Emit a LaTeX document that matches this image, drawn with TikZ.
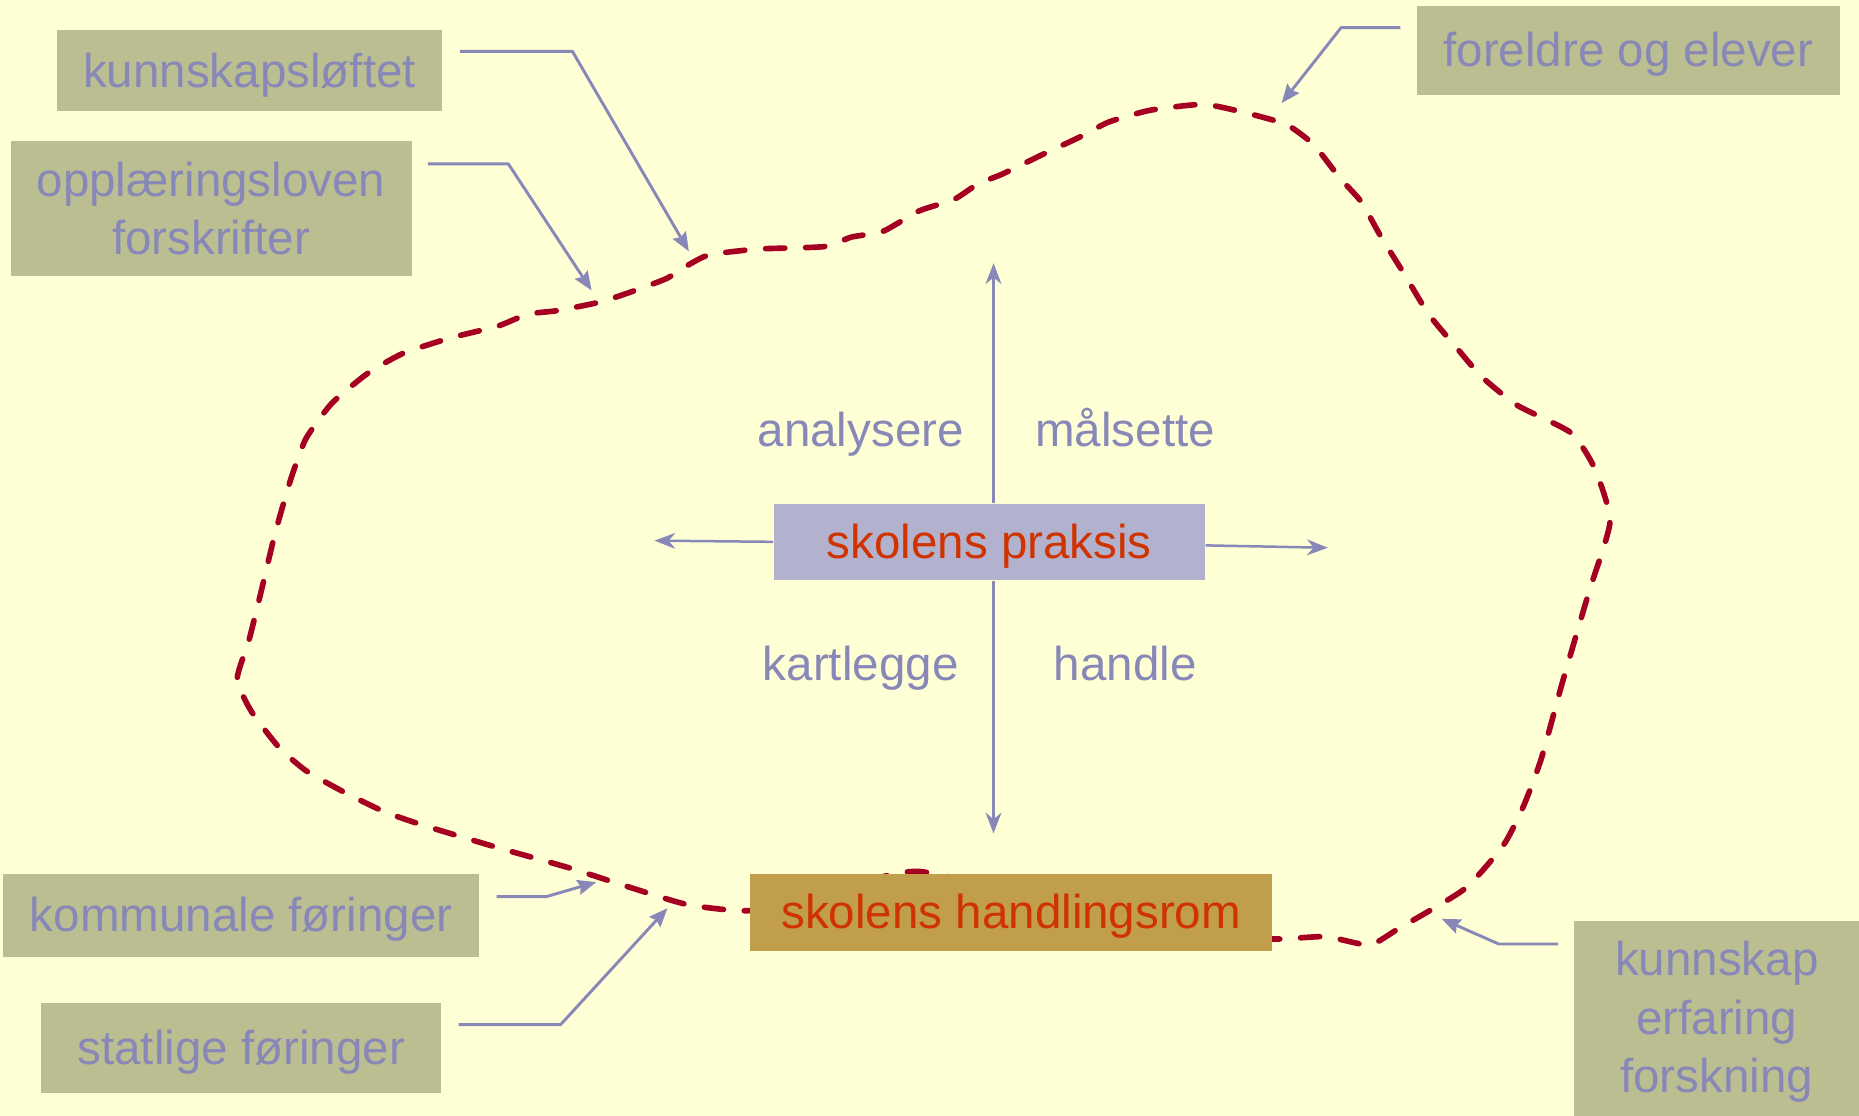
\documentclass[tikz,border=0pt]{standalone}
\usepackage{fontspec}
\setmainfont{Liberation Sans}
\usetikzlibrary{arrows.meta}
\definecolor{bakgrunn}{RGB}{255,255,213}
\definecolor{oliven}{RGB}{187,190,144}
\definecolor{blagra}{RGB}{136,136,184}
\definecolor{lilla}{RGB}{178,178,206}
\definecolor{rodtekst}{RGB}{208,50,0}
\definecolor{oker}{RGB}{192,158,76}
\definecolor{vinrod}{RGB}{165,0,33}

\begin{document}
\begin{tikzpicture}[line cap=round,line join=round,x=0.01cm,y=-0.01cm,
	every node/.style={font=\fontsize{11.4}{14}\selectfont,inner sep=0pt},
	linje/.style={text height=9.4pt,text depth=1.5pt},
	kilde/.style={fill=oliven,text=blagra,align=center},
	pil/.style={draw=blagra,line width=0.7pt,line cap=butt,-{Stealth[length=4.5pt,width=3.6pt,inset=0.6pt]}},
	akse/.style={draw=blagra,line width=0.6pt,line cap=butt,-{Stealth[length=5pt,width=3.8pt,inset=1.6pt]}},
	grense/.style={draw=vinrod,line width=1.35pt,dash pattern=on 4.6pt off 5pt}]

	\fill [bakgrunn] (0,0) rectangle (1568,941);
	\useasboundingbox (0,0) rectangle (1568,941);

	\draw [grense] plot[smooth cycle,tension=0.35] coordinates {
		(633,768) (700,752) (775,735) (900,765) (1000,785) (1073,792) (1118,790) (1155,797)
		(1180,783) (1235,750) (1268,713) (1285,680) (1300,640) (1318,575) (1340,500) (1358,440)
		(1345,395) (1325,365) (1280,342) (1250,318) (1230,295) (1205,265) (1185,232) (1165,200)
		(1148,170) (1130,150) (1108,122) (1085,105) (1050,95) (1015,88) (970,93) (935,103)
		(912,115) (880,130) (845,147) (825,155) (805,168) (775,178) (745,195) (718,200)
		(695,208) (640,210) (598,215) (578,225) (562,235) (530,247) (505,255) (470,262)
		(445,265) (420,275) (380,285) (340,298) (310,315) (280,340) (258,370) (245,405)
		(232,450) (220,500) (210,540) (200,573) (212,600) (235,630) (258,650) (290,668)
		(325,685) (360,697) (420,715) (480,732) (530,748) (580,763)};

	\node [kilde,linje,minimum width=3.25cm,minimum height=0.69cm] (kunn) at (210.5,59.5) {kunnskapsløftet};
	\node [kilde,minimum width=3.38cm,minimum height=1.14cm] (lov) at (178,176) {opplæringsloven\\forskrifter};
	\node [kilde,linje,minimum width=3.57cm,minimum height=0.75cm] (foreldre) at (1373.5,42.5) {foreldre og elever};
	\node [kilde,linje,minimum width=4.01cm,minimum height=0.70cm] (kommunal) at (203.5,772) {kommunale føringer};
	\node [kilde,linje,minimum width=3.37cm,minimum height=0.76cm] (statlig) at (203.5,884) {statlige føringer};
	\node [kilde,minimum width=2.40cm,minimum height=1.70cm] (kunnskap) at (1448,862) {kunnskap\\erfaring\\forskning};

	\node [linje,fill=lilla,text=rodtekst,minimum width=3.63cm,minimum height=0.64cm] (praksis) at (834.5,457) {skolens praksis};
	\node [linje,fill=oker,text=rodtekst,minimum width=4.40cm,minimum height=0.65cm] (rom) at (853,769.5) {skolens handlingsrom};

	\node [linje,text=blagra] (analysere) at (726,363) {analysere};
	\node [linje,text=blagra] (malsette) at (949,363) {målsette};
	\node [linje,text=blagra] (kartlegge) at (726,560) {kartlegge};
	\node [linje,text=blagra] (handle) at (949,560) {handle};

	\coordinate (opp) at (838,222);
	\coordinate (ned) at (838,703);
	\coordinate (venstre) at (552,456);
	\coordinate (hoyre) at (1120,462);
	\draw [akse] (praksis.north -| opp) -- (opp);
	\draw [akse] (praksis.south -| ned) -- (ned);
	\draw [akse] (praksis.west) -- (venstre);
	\draw [akse] ([shift={(0,3)}]praksis.east) -- (hoyre);

	\coordinate (m1) at (581,212);
	\coordinate (m2) at (499,245);
	\coordinate (m3) at (1081,87);
	\coordinate (m4) at (503,744);
	\coordinate (m5) at (563,766);
	\coordinate (m6) at (1216,775);
	\draw [pil] ([shift={(14,19)}]kunn.north east) -- ++(95,0) -- (m1);
	\draw [pil] ([shift={(13,20)}]lov.north east) -- ++(68,0) -- (m2);
	\draw [pil] ([shift={(-13,19)}]foreldre.north west) -- ++(-50,0) -- (m3);
	\draw [pil] ([shift={(14,20)}]kommunal.north east) -- ++(42,0) -- (m4);
	\draw [pil] ([shift={(14,19)}]statlig.north east) -- ++(86,0) -- (m5);
	\draw [pil] ([shift={(-13,20)}]kunnskap.north west) -- ++(-50,0) -- (m6);
\end{tikzpicture}
\end{document}
